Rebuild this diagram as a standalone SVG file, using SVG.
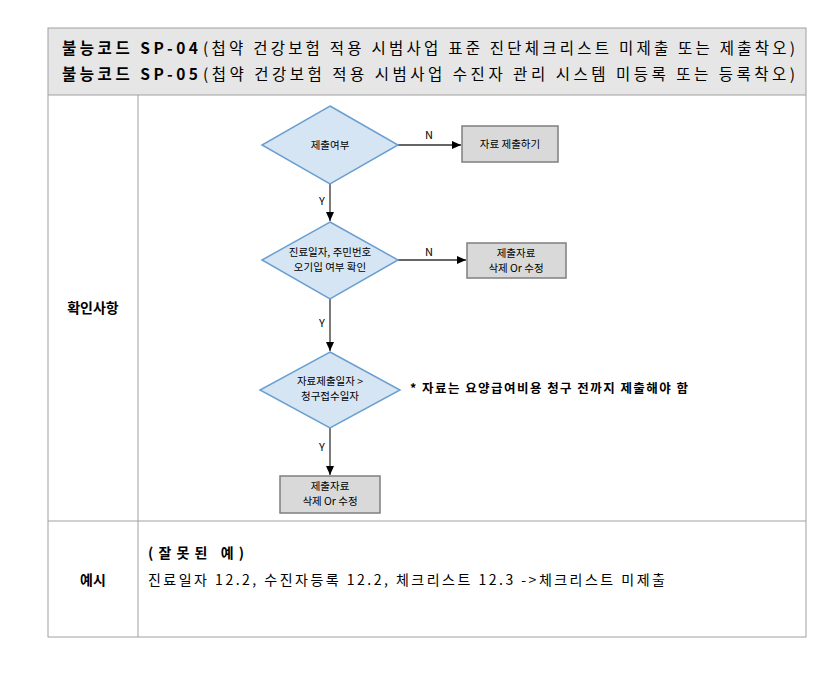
<svg xmlns="http://www.w3.org/2000/svg" width="835" height="687" viewBox="0 0 835 687">
<defs><marker id="ah" markerWidth="10" markerHeight="10" refX="9" refY="5" orient="auto" markerUnits="userSpaceOnUse"><path d="M0,1 L9,5 L0,9 Z" fill="#000"/></marker></defs>
<style>
text{font-family:"Noto Sans CJK KR","Noto Sans",sans-serif;fill:#000}
.d{fill:#d5e5f3;stroke:#6b9fd0;stroke-width:1.5}
.b{fill:#d9d9d9;stroke:#7f7f7f;stroke-width:1.5}
.s{font-size:10.5px;text-anchor:middle}
.l{stroke:#333;stroke-width:1.3;fill:none;marker-end:url(#ah)}
.g{stroke:#a0a0a0;stroke-width:1;fill:none}
</style>
<rect x="0" y="0" width="835" height="687" fill="#fff"/>
<rect x="48" y="28" width="758" height="67" fill="#e6e6e6"/>
<rect x="48" y="28" width="758" height="609" class="g"/>
<line x1="48" y1="95" x2="806" y2="95" class="g"/>
<line x1="48" y1="521" x2="806" y2="521" class="g"/>
<line x1="138" y1="95" x2="138" y2="637" class="g"/>
<text x="62" y="54" font-size="15.5" font-weight="bold" textLength="136" lengthAdjust="spacing">불능코드 SP-04</text>
<text x="203" y="54" font-size="15.5" textLength="592" lengthAdjust="spacing">(첩약 건강보험 적용 시범사업 표준 진단체크리스트 미제출 또는 제출착오)</text>
<text x="62" y="80" font-size="15.5" font-weight="bold" textLength="136" lengthAdjust="spacing">불능코드 SP-05</text>
<text x="203" y="80" font-size="15.5" textLength="592" lengthAdjust="spacing">(첩약 건강보험 적용 시범사업 수진자 관리 시스템 미등록 또는 등록착오)</text>
<text x="93" y="313" font-size="14" font-weight="bold" text-anchor="middle">확인사항</text>
<text x="93" y="585" font-size="14" font-weight="bold" text-anchor="middle">예시</text>
<text x="148" y="558" font-size="14" font-weight="bold" textLength="96" lengthAdjust="spacing">(잘못된 예)</text>
<text x="148" y="585" font-size="14" textLength="517" lengthAdjust="spacing">진료일자 12.2, 수진자등록 12.2, 체크리스트 12.3 -&gt;체크리스트 미제출</text>
<g id="connectors">
<line x1="398" y1="145" x2="461" y2="145" class="l"/>
<line x1="330" y1="184" x2="330" y2="221" class="l"/>
<line x1="398" y1="260" x2="466" y2="260" class="l"/>
<line x1="330" y1="299" x2="330" y2="351" class="l"/>
<line x1="330" y1="428" x2="330" y2="475" class="l"/>
<text x="425" y="139" font-size="11">N</text>
<text x="425" y="256" font-size="11">N</text>
<text x="319" y="205" font-size="11">Y</text>
<text x="319" y="327" font-size="11">Y</text>
<text x="319" y="451" font-size="11">Y</text>
</g>
<g id="d1"><polygon class="d" points="330,106 398,145 330,184 262,145"/><text class="s" x="330" y="149">제출여부</text></g>
<g id="b1"><rect class="b" x="462" y="126" width="96" height="36"/><text class="s" x="510" y="148">자료 제출하기</text></g>
<g id="d2"><polygon class="d" points="330,222 398,260 330,299 262,260"/><text class="s" x="330" y="256">진료일자, 주민번호</text><text class="s" x="330" y="271">오기입 여부 확인</text></g>
<g id="b2"><rect class="b" x="467" y="243" width="99" height="35"/><text class="s" x="516" y="257">제출자료</text><text class="s" x="516" y="272">삭제 Or 수정</text></g>
<g id="d3"><polygon class="d" points="330,352 400,390 330,428 260,390"/><text class="s" x="330" y="385">자료제출일자 &gt;</text><text class="s" x="330" y="400">청구접수일자</text></g>
<text x="410" y="393" font-size="12.5" font-weight="bold" textLength="278" lengthAdjust="spacing">* 자료는 요양급여비용 청구 전까지 제출해야 함</text>
<g id="b3"><rect class="b" x="280" y="476" width="100" height="37"/><text class="s" x="330" y="490">제출자료</text><text class="s" x="330" y="505">삭제 Or 수정</text></g>
</svg>
